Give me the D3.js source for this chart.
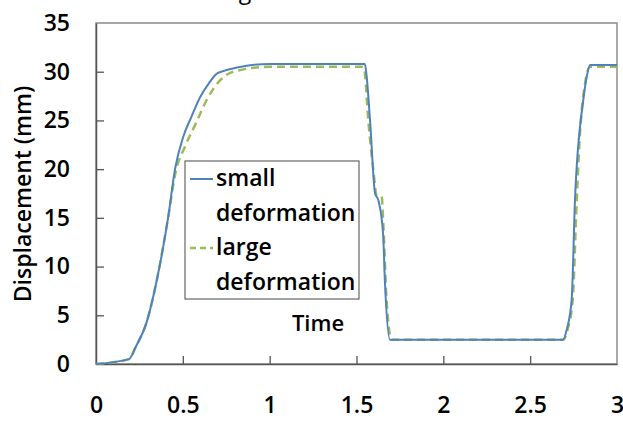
<!DOCTYPE html>
<html>
<head>
<meta charset="utf-8">
<script src="https://cdn.jsdelivr.net/npm/d3@7"></script>
<style>
  body { margin: 0; background: #fff; }
  text { font-family: "Open Sans", sans-serif; fill: #000; }
</style>
</head>
<body>
<svg class="chart"></svg>
<script>
// values
var xTicks = [0, 0.5, 1, 1.5, 2, 2.5, 3];
var yTicks = [0, 5, 10, 15, 20, 25, 30, 35];

var timeSmall = [0, 0.19, 0.23, 0.29, 0.35, 0.415, 0.455, 0.5, 0.55, 0.6, 0.65, 0.704, 1.0, 1.548, 1.558, 1.578, 1.607, 1.626, 1.653, 1.664, 1.693, 2.69, 2.71, 2.739, 2.758, 2.806, 2.826, 2.845, 3.0];
var dispSmall = [0, 0.5, 1.8, 4.2, 8.6, 15, 20, 23.2, 25.4, 27.4, 28.8, 29.9, 30.8, 30.8, 29.6, 25, 17.5, 16.8, 13.4, 8.3, 2.5, 2.5, 3.5, 6.6, 16.8, 27.1, 29.5, 30.7, 30.7];

var timeLarge = [0, 0.19, 0.23, 0.29, 0.35, 0.415, 0.46, 0.512, 0.575, 0.637, 0.714, 0.79, 1.0, 1.535, 1.545, 1.568, 1.597, 1.616, 1.645, 1.655, 1.673, 1.703, 2.69, 2.715, 2.745, 2.768, 2.787, 2.816, 2.845, 3.0];
var dispLarge = [0, 0.5, 1.8, 4.2, 8.6, 15, 19.8, 22.3, 24.7, 27.1, 29.1, 30.0, 30.5, 30.5, 30.2, 25, 19.9, 17.3, 17.2, 14.1, 6.6, 2.5, 2.5, 3.5, 6.6, 16.8, 23.7, 28.8, 30.5, 30.5];

var width = 623, height = 421;
var margin = {top: 23, right: 6, bottom: 57, left: 96};

var svg = d3.select(".chart")
  .attr("width", width)
  .attr("height", height);

var x = d3.scaleLinear().domain([0, 3]).range([margin.left, width - margin.right]);
var y = d3.scaleLinear().domain([0, 35]).range([height - margin.bottom, margin.top]);

// title cut off at the top of the picture
svg.append("text")
  .attr("x", 245).attr("y", -1)
  .attr("text-anchor", "middle")
  .style("font-size", "23px")
  .text("g");

// plot frame
svg.append("rect")
  .attr("x", x(0)).attr("y", y(35))
  .attr("width", x(3) - x(0)).attr("height", y(0) - y(35))
  .attr("fill", "none")
  .attr("stroke", "#8c8c8c")
  .attr("stroke-width", 1.5);

// axes, ticks pointing inward
var xAxis = svg.append("g")
  .attr("transform", "translate(0," + y(0) + ")")
  .call(d3.axisBottom(x).tickValues(xTicks).tickSizeInner(-8).tickSizeOuter(0).tickPadding(33)
    .tickFormat(function(d) { return d; }));

var yAxis = svg.append("g")
  .attr("transform", "translate(" + x(0) + ",0)")
  .call(d3.axisLeft(y).tickValues(yTicks).tickSizeInner(-8).tickSizeOuter(0).tickPadding(26));

[xAxis, yAxis].forEach(function(a) {
  a.select(".domain").attr("stroke", "#555").attr("stroke-width", 1.5);
  a.selectAll(".tick line").attr("stroke", "#555").attr("stroke-width", 1.3);
  a.selectAll(".tick text")
    .style("font-size", "23px")
    .style("font-weight", "600")
    .style("font-family", "'Open Sans', sans-serif")
    .attr("fill", "#000");
});
xAxis.selectAll(".tick line").filter(function(d) { return d === 0 || d === 3; }).remove();
yAxis.selectAll(".tick line").filter(function(d) { return d === 0 || d === 35; }).remove();

// lines
var line = d3.line()
  .x(function(d) { return x(d[0]); })
  .y(function(d) { return y(d[1]); })
  .curve(d3.curveMonotoneX);

svg.append("path")
  .datum(d3.zip(timeLarge, dispLarge))
  .attr("d", line)
  .attr("fill", "none")
  .attr("stroke", "#9bbb59")
  .attr("stroke-width", 2.5)
  .attr("stroke-dasharray", "8,5");

svg.append("path")
  .datum(d3.zip(timeSmall, dispSmall))
  .attr("d", line)
  .attr("fill", "none")
  .attr("stroke", "#4f81bd")
  .attr("stroke-width", 2);

// axis titles
svg.append("text")
  .attr("transform", "translate(31," + 194 + ") rotate(-90)")
  .attr("text-anchor", "middle")
  .style("font-size", "23px")
  .style("font-weight", "600")
  .text("Displacement (mm)");

svg.append("text")
  .attr("x", 318).attr("y", 331)
  .attr("text-anchor", "middle")
  .style("font-size", "22px")
  .style("font-weight", "600")
  .text("Time");

// legend
var legend = svg.append("g");
legend.append("rect")
  .attr("x", 185).attr("y", 161)
  .attr("width", 174).attr("height", 138)
  .attr("fill", "#fff")
  .attr("stroke", "#666")
  .attr("stroke-width", 1.2);

var legendRows = [
  {color: "#4f81bd", dash: null, width: 2, lines: ["small", "deformation"], y: 186},
  {color: "#9bbb59", dash: "6,4", width: 2.5, lines: ["large", "deformation"], y: 255}
];

legendRows.forEach(function(r) {
  legend.append("line")
    .attr("x1", 190).attr("x2", 213)
    .attr("y1", r.y - 7).attr("y2", r.y - 7)
    .attr("stroke", r.color)
    .attr("stroke-width", r.width)
    .attr("stroke-dasharray", r.dash);
  r.lines.forEach(function(t, i) {
    legend.append("text")
      .attr("x", 216).attr("y", r.y + i * 35)
      .style("font-size", "23px")
      .style("font-weight", "600")
      .text(t);
  });
});
</script>
</body>
</html>
